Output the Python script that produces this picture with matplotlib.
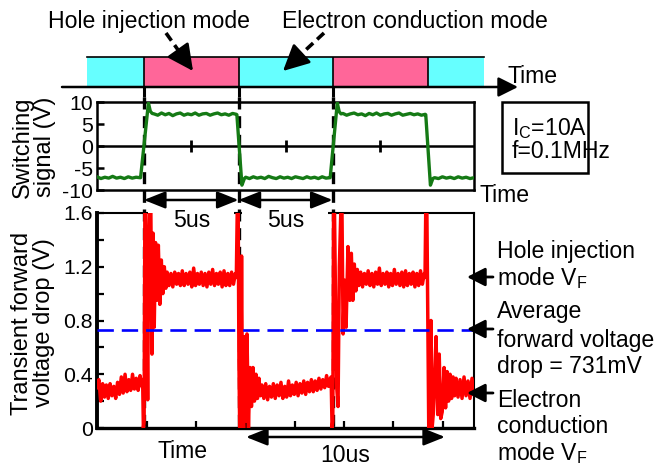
import numpy as np
import matplotlib
matplotlib.use('Agg')
import matplotlib.pyplot as plt
from matplotlib.patches import Rectangle, ArrowStyle
import matplotlib.transforms as mtransforms

plt.rcParams['font.family'] = ['Liberation Sans', 'DejaVu Sans']
plt.rcParams['mathtext.fontset'] = 'custom'
plt.rcParams['mathtext.rm'] = 'Liberation Sans'
plt.rcParams['mathtext.it'] = 'Liberation Sans'
plt.rcParams['axes.unicode_minus'] = False

# ---------------- data (time in us) ----------------
T_END = 20.16
switch_times = [2.51, 7.57, 12.6, 17.7]          # mode boundaries
mode_edges = [-0.53] + switch_times + [20.69]
mode_kind = ['electron', 'hole', 'electron', 'hole', 'electron']
mode_colors = {'electron': '#66FFFF', 'hole': '#FF6699'}
avg_vf = 0.731
mid_ticks = [5.03, 10.1, 15.13]
bot_ticks = [2.67, 5.30, 7.97, 10.59, 13.21, 15.83, 18.5]
mid_yticks = [-10, -5, 0, 5, 10]
bot_yticks = [0, 0.4, 0.8, 1.2, 1.6]
bot_yticks_minor = [0.2, 0.6, 1.0, 1.4]

# switching (gate) signal, V
gate_low1 = [-7.0, -7.4, -7.1, -7.3, -6.9, -7.3, -7.1, -7.4, -7.0, -7.3, -7.1, -7.2]
gate_rise1_t = [2.33, 2.75, 2.85, 2.95]
gate_rise1_v = [-7.2, 9.8, 7.9, 7.4]
gate_high1 = [7.3, 7.0, 7.5, 7.1, 7.4, 6.9, 7.3, 7.5, 7.0, 7.3, 7.1, 7.5, 7.0, 7.3,
              7.4, 7.0, 7.3, 7.5, 7.1, 7.3, 7.0, 7.4, 7.2]
gate_fall1_t = [7.48, 7.75, 7.88]
gate_fall1_v = [7.1, -8.9, -7.4]
gate_low2 = [-7.1, -7.4, -7.0, -7.3, -7.1, -7.4, -6.9, -7.2, -7.4, -7.0, -7.3, -7.1,
             -7.4, -7.0, -7.2, -7.4, -7.0, -7.3, -7.1, -7.4, -7.0, -7.3, -7.2]
gate_rise2_t = [12.47, 12.85, 12.95, 13.05]
gate_rise2_v = [-7.2, 9.8, 7.8, 7.3]
gate_high2 = [7.4, 7.0, 7.3, 7.5, 7.1, 7.3, 6.9, 7.4, 7.1, 7.5, 7.0, 7.3, 7.4, 7.0,
              7.3, 7.5, 7.0, 7.2, 7.4, 7.1, 7.3, 7.0, 7.2]
gate_fall2_t = [17.58, 17.83, 17.96]
gate_fall2_v = [7.1, -8.9, -7.4]
gate_low3 = [-7.2, -7.4, -7.0, -7.3, -7.1, -7.4, -7.0, -7.3, -7.1, -7.4, -7.2]

# transient forward voltage drop, V
vf_low1 = [0.30, 0.36, 0.20, 0.33, 0.23, 0.32, 0.22, 0.33, 0.24, 0.31, 0.22, 0.34, 0.25,
           0.38, 0.26, 0.40, 0.27, 0.36, 0.28, 0.40, 0.29, 0.37, 0.28, 0.39, 0.31]
vf_rise1_t = [2.44, 2.48, 2.52, 2.56, 2.61, 2.66, 2.71, 2.76, 2.82, 2.88, 2.94, 3.00,
              3.06, 3.13, 3.20, 3.28, 3.36, 3.44, 3.52, 3.60, 3.68]
vf_rise1_v = [0.36, 0.0, 0.05, 1.62, 1.62, 0.9, 0.21, 1.2, 1.62, 1.62, 0.55, 1.45,
              0.75, 1.38, 0.95, 1.36, 0.92, 1.25, 1.0, 1.2, 1.04]
vf_high1 = [1.16, 1.06, 1.15, 1.05, 1.16, 1.07, 1.15, 1.06, 1.17, 1.06, 1.15, 1.07, 1.16,
            1.05, 1.19, 1.06, 1.15, 1.07, 1.16, 1.06, 1.15, 1.05, 1.16, 1.07, 1.18, 1.06,
            1.15, 1.07, 1.16, 1.05, 1.17, 1.06, 1.15, 1.06, 1.16, 1.07, 1.15]
vf_fall1_t = [7.45, 7.50, 7.55, 7.59, 7.63, 7.68, 7.73, 7.78, 7.84, 7.90, 7.96, 8.02,
              8.10, 8.18, 8.26, 8.34, 8.42, 8.50, 8.58, 8.66, 8.74]
vf_fall1_v = [1.12, 1.62, 1.62, 0.5, 0.0, 0.0, 1.28, 0.2, 0.0, 0.68, 0.05, 0.7,
              0.0, 0.45, 0.16, 0.45, 0.2, 0.4, 0.22, 0.37, 0.24]
vf_low2 = [0.32, 0.22, 0.33, 0.21, 0.31, 0.23, 0.33, 0.22, 0.32, 0.24, 0.34, 0.22, 0.31,
           0.23, 0.35, 0.24, 0.32, 0.25, 0.34, 0.24, 0.33, 0.26, 0.35, 0.25, 0.34, 0.27,
           0.36, 0.27, 0.35, 0.28, 0.37, 0.29, 0.36, 0.30, 0.39, 0.31, 0.37]
vf_rise2_t = [12.52, 12.57, 12.61, 12.65, 12.70, 12.76, 12.82, 12.89, 12.96, 13.04,
              13.10, 13.16, 13.24, 13.32, 13.42, 13.52, 13.60, 13.68, 13.76, 13.84, 13.92]
vf_rise2_v = [0.38, 0.0, 0.05, 1.62, 1.62, 0.9, 0.3, 0.16, 1.2, 1.62,
              1.62, 0.7, 1.1, 0.75, 1.35, 0.95, 1.3, 0.95, 1.22, 1.02, 1.18]
vf_high2 = [1.06, 1.16, 1.05, 1.15, 1.07, 1.17, 1.06, 1.15, 1.05, 1.16, 1.07, 1.19,
            1.06, 1.15, 1.07, 1.16, 1.05, 1.15, 1.06, 1.18, 1.07, 1.15, 1.06, 1.16,
            1.05, 1.17, 1.06, 1.15, 1.07, 1.16, 1.05, 1.15, 1.06, 1.17, 1.07, 1.15]
vf_fall2_t = [17.54, 17.58, 17.64, 17.70, 17.74, 17.80, 17.86, 17.92, 17.98, 18.05,
              18.13, 18.22, 18.30, 18.38, 18.46, 18.56, 18.64, 18.72, 18.80, 18.88,
              18.96, 19.04, 19.12]
vf_fall2_v = [1.12, 1.62, 1.62, 0.6, 0.0, 0.0, 0.8, 0.0, 0.1, 0.35,
              0.68, 0.1, 0.55, 0.07, 0.12, 0.45, 0.15, 0.42, 0.2, 0.4,
              0.22, 0.38, 0.24]
vf_low3 = [0.37, 0.23, 0.36, 0.22, 0.38, 0.24, 0.35, 0.22, 0.37, 0.25]

# ---------------- assemble traces ----------------
def seg(t0, t1, vals):
    return list(np.linspace(t0, t1, len(vals))), list(vals)

gate_t, gate_v = [], []
for tt, vv in [seg(0.0, 2.30, gate_low1), (gate_rise1_t, gate_rise1_v),
               seg(3.05, 7.45, gate_high1), (gate_fall1_t, gate_fall1_v),
               seg(7.95, 12.45, gate_low2), (gate_rise2_t, gate_rise2_v),
               seg(13.15, 17.55, gate_high2), (gate_fall2_t, gate_fall2_v),
               seg(18.05, T_END, gate_low3)]:
    gate_t += list(tt); gate_v += list(vv)

vf_t, vf_v = [], []
for tt, vv in [seg(0.0, 2.40, vf_low1), (vf_rise1_t, vf_rise1_v),
               seg(3.75, 7.40, vf_high1), (vf_fall1_t, vf_fall1_v),
               seg(8.82, 12.48, vf_low2), (vf_rise2_t, vf_rise2_v),
               seg(14.0, 17.50, vf_high2), (vf_fall2_t, vf_fall2_v),
               seg(19.2, T_END, vf_low3)]:
    vf_t += list(tt); vf_v += list(vv)

# ---------------- figure ----------------
W, H = 654, 468
fig = plt.figure(figsize=(W / 100, H / 100), dpi=100)

def px_rect(x0, y0, x1, y1):
    return [x0 / W, 1 - y1 / H, (x1 - x0) / W, (y1 - y0) / H]

ov_back = fig.add_axes([0, 0, 1, 1], zorder=-1)
ax_top = fig.add_axes(px_rect(97, 30, 474, 100), zorder=1)
ax_mid = fig.add_axes(px_rect(97, 102, 474, 190), zorder=2)
ax_bot = fig.add_axes(px_rect(97, 213, 474, 428), zorder=2)
ov = fig.add_axes([0, 0, 1, 1], zorder=10)
for o in (ov_back, ov):
    o.set_xlim(0, W); o.set_ylim(H, 0); o.axis('off'); o.patch.set_visible(False)
for a in (ax_top, ax_mid, ax_bot):
    a.set_xlim(0, T_END)
    a.patch.set_visible(False)

FS = 16.6
YFS = 17
TFS = 15.3

# ---- top strip ----
ax_top.set_ylim(100, 30)
ax_top.axis('off')
for e0, e1, kind in zip(mode_edges[:-1], mode_edges[1:], mode_kind):
    ax_top.add_patch(Rectangle((e0, 57), e1 - e0, 29.5, facecolor=mode_colors[kind],
                               edgecolor='none', clip_on=False, zorder=1))
ax_top.plot([mode_edges[0], mode_edges[-1]], [57, 57], color='k', lw=1.2,
            clip_on=False, zorder=2)
ax_top.vlines(mode_edges[1:-1], 57, 87, color='k', lw=1.2, clip_on=False, zorder=2)
ax_top.vlines(switch_times[:3], 87, 97, color='k', lw=2.2, clip_on=False, zorder=2)
ov.annotate('', xy=(518, 87), xytext=(62, 87),
            arrowprops=dict(arrowstyle=ArrowStyle('-|>', head_length=0.6, head_width=0.3),
                            mutation_scale=20, lw=1.8, color='k', shrinkA=0, shrinkB=0))
ov.text(507, 83, 'Time', fontsize=FS, ha='left', va='baseline')

ov.text(149, 28, 'Hole injection mode', fontsize=FS, ha='center', va='baseline')
ov.text(415, 28, 'Electron conduction mode', fontsize=FS, ha='center', va='baseline')

def dashed_arrow(x0, y0, x1, y1):
    dx, dy = x1 - x0, y1 - y0
    f = 0.7
    ov.plot([x0, x0 + f * dx], [y0, y0 + f * dy], color='k', lw=2.6,
            ls=(0, (2.6, 1.5)), solid_capstyle='butt', dash_capstyle='butt')
    ov.annotate('', xy=(x1, y1), xytext=(x0 + 0.68 * dx, y0 + 0.68 * dy),
                arrowprops=dict(arrowstyle=ArrowStyle('-|>', head_length=0.8, head_width=0.4),
                                mutation_scale=20, lw=2.0, color='k', shrinkA=0, shrinkB=0))

dashed_arrow(166, 33, 193, 71)
dashed_arrow(324, 33, 283, 71)

# ---- vertical dashed switching markers ----
blend_back = mtransforms.blended_transform_factory(ax_bot.transData, ov_back.transData)
for t in switch_times[:3]:
    ov_back.plot([t, t], [97, 428], transform=blend_back, color='k', lw=2.4,
                 ls=(0, (3.6, 2.0)), dash_capstyle='butt')

# ---- middle axes: switching signal ----
ax_mid.plot(gate_t, gate_v, color='#157A15', lw=2.4, zorder=4, solid_joinstyle='round')
ax_mid.axhline(0, color='k', lw=1.8, zorder=3)
ax_mid.plot(mid_ticks, [0] * len(mid_ticks), ls='none', marker='|', ms=9, mew=2,
            color='k', zorder=3)
ax_mid.set_ylim(-10, 10)
ax_mid.set_yticks(mid_yticks, labels=[str(v) for v in mid_yticks])
ax_mid.set_xticks([])
ax_mid.tick_params(axis='y', direction='in', length=5, width=1.8, labelsize=TFS, pad=3)
for s in ax_mid.spines.values():
    s.set_linewidth(1.8)

ov.text(480, 202, 'Time', fontsize=FS, ha='left', va='baseline')
ov.text(33.5, 147, 'Switching\nsignal (V)', fontsize=YFS, rotation=90, ha='center',
        va='center', multialignment='center', linespacing=1.0)

# info box
ov.add_patch(Rectangle((502, 102), 86, 71, fill=False, lw=1.8, edgecolor='k'))
ov.text(512, 135, r'I$_\mathregular{C}$=10A', fontsize=FS, ha='left', va='baseline')
ov.text(512, 158, 'f=0.1MHz', fontsize=FS, ha='left', va='baseline')

# ---- bottom axes: transient forward voltage ----
ax_bot.plot(vf_t, vf_v, color='#FF0000', lw=2.5, zorder=4, solid_joinstyle='round')
ax_bot.axhline(avg_vf, color='#0000FF', lw=1.9, ls=(0, (6.2, 3.0)), zorder=5)
ax_bot.set_ylim(0, 1.6)
ax_bot.set_yticks(bot_yticks, labels=['0', '0.4', '0.8', '1.2', '1.6'])
ax_bot.set_yticks(bot_yticks_minor, minor=True)
ax_bot.set_xticks(bot_ticks)
ax_bot.tick_params(axis='x', labelbottom=False, direction='in', length=5, width=1.6)
ax_bot.tick_params(axis='y', which='both', direction='in', length=5, width=1.6,
                   labelsize=TFS, pad=3)
ax_bot.spines['left'].set_linewidth(2.8)
ax_bot.spines['bottom'].set_linewidth(2.4)
ax_bot.spines['top'].set_linewidth(1.5)
ax_bot.spines['right'].set_linewidth(1.5)

# white covers where "5us" labels hide the top spine
blend_bot = mtransforms.blended_transform_factory(ax_bot.transData, ax_bot.transAxes)
for a0, a1 in zip(switch_times[:2], switch_times[1:3]):
    ax_bot.add_patch(Rectangle((a0 + 0.2, 0.98), (a1 - a0) - 0.45, 0.04, transform=blend_bot,
                               facecolor='white', edgecolor='none', clip_on=False, zorder=3))

# 5us arrows
for a0, a1 in zip(switch_times[:2], switch_times[1:3]):
    ov.annotate('', xy=(a1, 200), xytext=(a0, 200),
                xycoords=(ax_bot.transData, ov.transData),
                textcoords=(ax_bot.transData, ov.transData),
                arrowprops=dict(arrowstyle=ArrowStyle('<|-|>', head_length=0.65, head_width=0.26),
                                mutation_scale=20, lw=1.8, color='k', shrinkA=0, shrinkB=0))
    ov.text(0.5 * (a0 + a1), 227, '5us', fontsize=FS, ha='center', va='baseline',
            transform=mtransforms.blended_transform_factory(ax_bot.transData, ov.transData))

ov.text(33.5, 323, 'Transient forward\nvoltage drop (V)', fontsize=YFS, rotation=90,
        ha='center', va='center', multialignment='center', linespacing=1.0)

# bottom annotations
ov.text(183, 458, 'Time', fontsize=FS, ha='center', va='baseline')
ov.annotate('', xy=(445, 437), xytext=(246, 437),
            arrowprops=dict(arrowstyle=ArrowStyle('<|-|>', head_length=0.65, head_width=0.26),
                            mutation_scale=20, lw=1.8, color='k', shrinkA=0, shrinkB=0))
ov.text(345, 462, '10us', fontsize=FS, ha='center', va='baseline')

# right annotations
right_lines = [('Hole injection', 258), (r'mode V$_\mathregular{F}$', 285),
               ('Average', 318), ('forward voltage', 347), ('drop = 731mV', 373),
               ('Electron', 407), ('conduction', 433), (r'mode V$_\mathregular{F}$', 460)]
for txt, yb in right_lines:
    ov.text(497, yb, txt, fontsize=FS, ha='left', va='baseline')
for ya in [277, 329, 393]:
    ov.annotate('', xy=(467, ya), xytext=(493, ya),
                arrowprops=dict(arrowstyle=ArrowStyle('-|>', head_length=0.55, head_width=0.28),
                                mutation_scale=20, lw=2.0, color='k', shrinkA=0, shrinkB=0))

fig.savefig('out.png', dpi=100)
